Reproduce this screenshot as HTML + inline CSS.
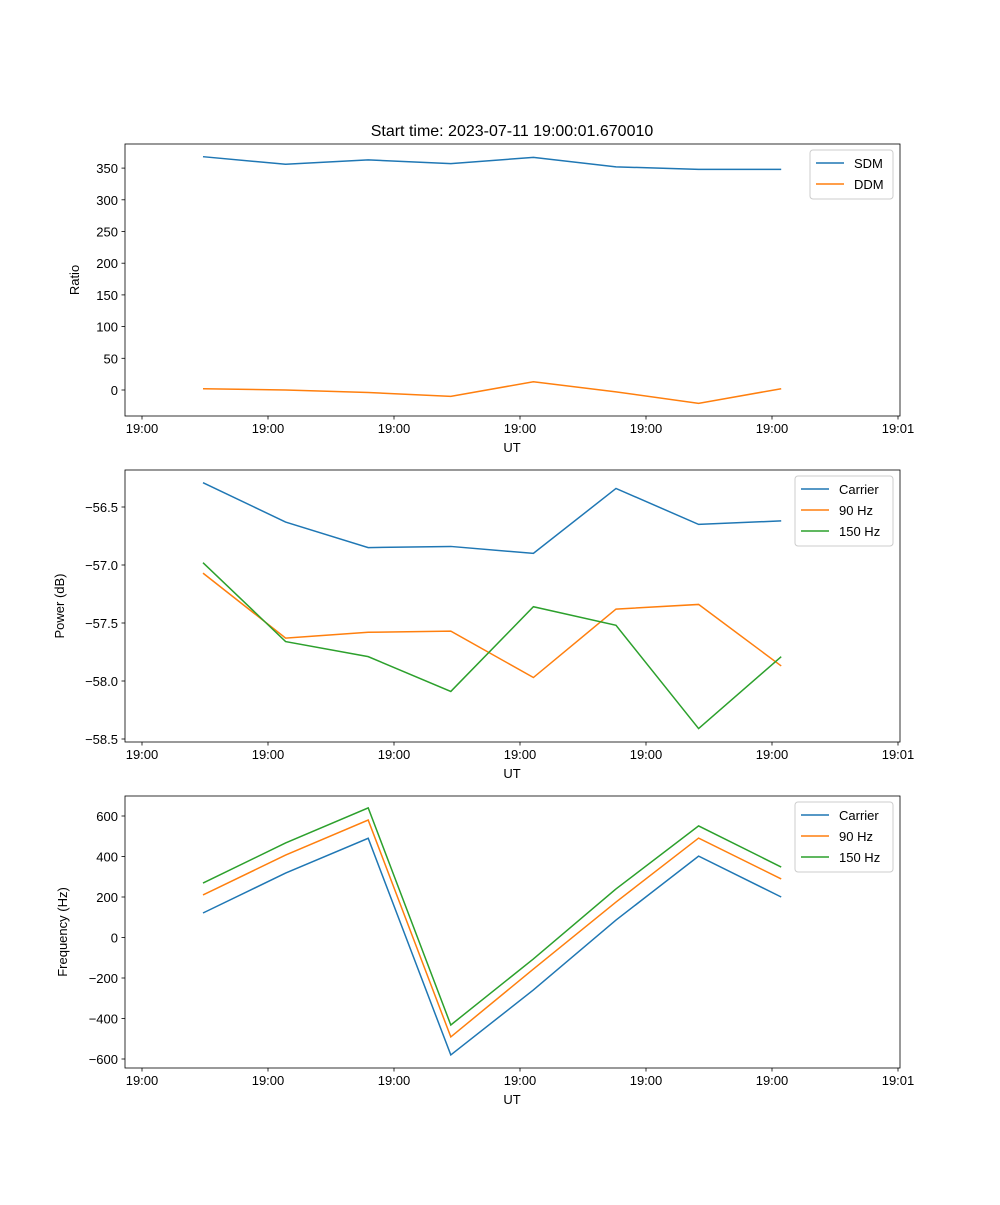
<!DOCTYPE html>
<html><head><meta charset="utf-8"><style>
body{margin:0;background:#fff}
svg{font-family:"Liberation Sans","DejaVu Sans",sans-serif}
</style></head><body>
<svg id="fig" width="1000" height="1200" viewBox="0 0 1000 1200">
<rect width="1000" height="1200" fill="#fff"/>
<text x="512" y="136" font-size="16" text-anchor="middle">Start time: 2023-07-11 19:00:01.670010</text>
</svg>
<script>
const xTickLabels=["19:00","19:00","19:00","19:00","19:00","19:00","19:01"];
const sdm=[368,356,363,357,367,352,348,348];
const ddm=[2,0,-4,-10,13,-3,-21,2];
const pCarrier=[-56.29,-56.63,-56.85,-56.84,-56.90,-56.34,-56.65,-56.62];
const p90=[-57.07,-57.63,-57.58,-57.57,-57.97,-57.38,-57.34,-57.87];
const p150=[-56.98,-57.66,-57.79,-58.09,-57.36,-57.52,-58.41,-57.79];
const fCarrier=[121,318,490,-580,-259,86,402,200];
const f90=[210,407,580,-491,-156,175,491,289];
const f150=[269,467,640,-432,-106,240,551,348];
const ticks1=[0,50,100,150,200,250,300,350];
const ticks2=[-58.5,-58.0,-57.5,-57.0,-56.5];
const ticks3=[-600,-400,-200,0,200,400,600];
const C=["#1f77b4","#ff7f0e","#2ca02c"];
const svg=document.getElementById('fig');
const NS="http://www.w3.org/2000/svg";
function mk(tag,attrs,parent){const e=document.createElementNS(NS,tag);for(const k in attrs)e.setAttribute(k,attrs[k]);(parent||svg).appendChild(e);return e;}
const xTick=i=>142+126*i;
const xData=j=>203+82.6*j;
function panel(top,yLab,yScale,ticks,fmt,series,names,legW,name){
  const g=mk('g',{});
  
  
  const L=125,R=900,T=top,B=top+272;
  series.forEach((s,k)=>{
    const p=mk('polyline',{points:s.map((v,j)=>xData(j)+','+yScale(v)).join(' '),fill:'none',stroke:C[k],'stroke-width':1.5},g);
    
    
  });
  mk('rect',{x:L,y:T,width:R-L,height:B-T,fill:'none',stroke:'#000','stroke-width':0.8},g);
  xTickLabels.forEach((t,i)=>{
    mk('line',{x1:xTick(i),x2:xTick(i),y1:B,y2:B+3.5,stroke:'#000','stroke-width':0.8},g);
    const tx=mk('text',{x:xTick(i),y:B+17,'font-size':13,'text-anchor':'middle'},g);tx.textContent=t;
    
    
  });
  ticks.forEach(t=>{
    const y=yScale(t);
    mk('line',{x1:L-3.5,x2:L,y1:y,y2:y,stroke:'#000','stroke-width':0.8},g);
    const tx=mk('text',{x:L-7,y:y+5,'font-size':13,'text-anchor':'end'},g);tx.textContent=fmt(t);
    
    
  });
  const xl=mk('text',{x:512,y:B+36,'font-size':13,'text-anchor':'middle'},g);xl.textContent='UT';
  
  
  const yl=mk('text',{x:0,y:0,'font-size':13,'text-anchor':'middle',transform:`translate(${yLab.x},${(T+B)/2}) rotate(-90)`},g);yl.textContent=yLab.t;
  
  
  const lx=893-legW, ly=T+6, lh=names.length*21+7;
  const lg=mk('g',{},g);
  
  
  mk('rect',{x:lx,y:ly,width:legW,height:lh,rx:3,fill:'#fff','fill-opacity':0.8,stroke:'#ccc','stroke-width':1},lg);
  names.forEach((n,k)=>{
    const yy=ly+13+21*k;
    mk('line',{x1:lx+6,x2:lx+34,y1:yy,y2:yy,stroke:C[k],'stroke-width':1.5},lg);
    const tx=mk('text',{x:lx+44,y:yy+5,'font-size':13},lg);tx.textContent=n;
    
    
  });
}
panel(144,{x:79,t:'Ratio'},v=>390-v*0.634,ticks1,t=>String(t),[sdm,ddm],['SDM','DDM'],83,'ratio-panel');
panel(470,{x:64,t:'Power (dB)'},v=>507+(-56.5-v)*116,ticks2,t=>'\u2212'+Math.abs(t).toFixed(1),[pCarrier,p90,p150],['Carrier','90 Hz','150 Hz'],98,'power-panel');
panel(796,{x:67,t:'Frequency (Hz)'},v=>937.5-v*0.2025,ticks3,t=>t<0?'\u2212'+Math.abs(t):String(t),[fCarrier,f90,f150],['Carrier','90 Hz','150 Hz'],98,'frequency-panel');
</script>
</body></html>
